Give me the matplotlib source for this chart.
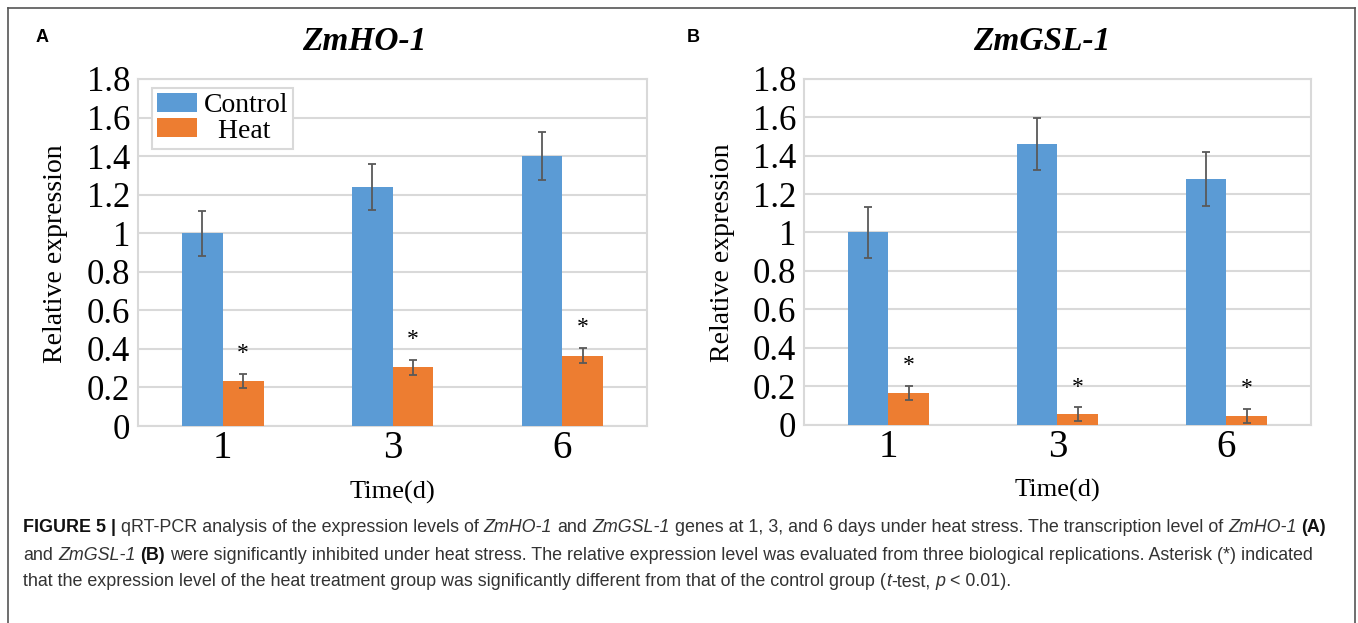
import matplotlib.pyplot as plt
import numpy as np

days = ['1', '3', '6']
series_names = ['Control', '  Heat']

ho_control = [1.00, 1.24, 1.40]
ho_control_err = [0.117, 0.118, 0.125]
ho_heat = [0.235, 0.305, 0.365]
ho_heat_err = [0.037, 0.038, 0.039]

gsl_control = [1.00, 1.46, 1.28]
gsl_control_err = [0.132, 0.135, 0.14]
gsl_heat = [0.165, 0.055, 0.045]
gsl_heat_err = [0.037, 0.035, 0.036]

y_ticks = [0, 0.2, 0.4, 0.6, 0.8, 1.0, 1.2, 1.4, 1.6, 1.8]
y_tick_labels = ['0', '0.2', '0.4', '0.6', '0.8', '1', '1.2', '1.4', '1.6', '1.8']

W, H = 1358, 623
blue = '#5b9bd5'
orange = '#ed7d31'
serif = 'Liberation Serif'
sans = 'Liberation Sans'

fig = plt.figure(figsize=(W / 100, H / 100), dpi=100)
ax_a = fig.add_axes([0.1015, 0.3162, 0.3752, 0.557])
ax_b = fig.add_axes([0.592, 0.3186, 0.3733, 0.555])


def draw_panel(ax, control, control_err, heat, heat_err, title, title_x, legend=False):
    x = np.arange(len(days))
    w = 0.24
    ekw = dict(ecolor='#595959', elinewidth=1.3, capsize=3, capthick=1.3)
    ax.bar(x - w / 2, control, w, yerr=control_err, color=blue, label=series_names[0],
           error_kw=ekw, zorder=3)
    ax.bar(x + w / 2, heat, w, yerr=heat_err, color=orange, label=series_names[1],
           error_kw=ekw, zorder=3)
    # significance stars over the heat bars
    for xi, v, e in zip(x, heat, heat_err):
        ax.text(xi + w / 2, v + e + 0.05, '*', ha='center', va='bottom',
                fontsize=17, family=serif)

    ax.set_xlim(-0.5, len(days) - 0.5)
    ax.set_ylim(0, 1.8)
    ax.set_xticks(x)
    ax.set_xticklabels(days, fontsize=28, family=serif)
    ax.set_yticks(y_ticks)
    ax.set_yticklabels(y_tick_labels, fontsize=25, family=serif)
    ax.tick_params(axis='both', length=0)
    ax.tick_params(axis='y', pad=5.5)
    ax.tick_params(axis='x', pad=3)
    ax.grid(axis='y', color='#d9d9d9', linewidth=1.5, zorder=0)
    ax.set_axisbelow(True)
    for s in ax.spines.values():
        s.set_color('#d9d9d9')
        s.set_linewidth(1.5)

    ax.set_ylabel('Relative expression', fontsize=20, family=serif, va='center')
    ax.yaxis.set_label_coords(-0.161, 0.496)
    ax.set_xlabel('Time(d)', fontsize=19, family=serif, va='center')
    ax.xaxis.set_label_coords(0.5, -0.192)

    ax.text(title_x, 1.107, title, transform=ax.transAxes, ha='center', va='center',
            fontsize=24, family=serif, fontweight='bold', fontstyle='italic')

    if legend:
        leg = ax.legend(loc='upper left', bbox_to_anchor=(0.0277, 0.974), borderaxespad=0,
                        prop={'family': serif, 'size': 20}, fancybox=False,
                        edgecolor='#d9d9d9', framealpha=1, handlelength=1.44,
                        handleheight=0.68, handletextpad=0.25, borderpad=0.18,
                        labelspacing=0.0)
        leg.get_frame().set_linewidth(1.5)


draw_panel(ax_a, ho_control, ho_control_err, ho_heat, ho_heat_err, 'ZmHO-1', 0.444, legend=True)
draw_panel(ax_b, gsl_control, gsl_control_err, gsl_heat, gsl_heat_err, 'ZmGSL-1', 0.469)

fig.text(42 / W, 1 - 38 / H, 'A', fontsize=13, fontweight='bold', family=sans,
         ha='center', va='center')
fig.text(693 / W, 1 - 38 / H, 'B', fontsize=13, fontweight='bold', family=sans,
         ha='center', va='center')

# outer frame, open at the bottom
frame_kw = dict(color='#555555', linewidth=1.2, transform=fig.transFigure)
fig.add_artist(plt.Line2D([8 / W, 8 / W], [0, 1 - 8 / H], **frame_kw))
fig.add_artist(plt.Line2D([8 / W, 1355 / W], [1 - 8 / H, 1 - 8 / H], **frame_kw))
fig.add_artist(plt.Line2D([1355 / W, 1355 / W], [0, 1 - 8 / H], **frame_kw))

# caption, drawn piece by piece so bold / italic can be mixed
caption = [
    [('FIGURE 5 |', 'b', 0), ('qRT-PCR analysis of the expression levels of', 'n', 1),
     ('ZmHO-1', 'i', 1), ('and', 'n', 1), ('ZmGSL-1', 'i', 1),
     ('genes at 1, 3, and 6 days under heat stress. The transcription level of', 'n', 1),
     ('ZmHO-1', 'i', 1), ('(A)', 'b', 1)],
    [('and', 'n', 0), ('ZmGSL-1', 'i', 1), ('(B)', 'b', 1),
     ('were significantly inhibited under heat stress. The relative expression level was '
      'evaluated from three biological replications. Asterisk (*) indicated', 'n', 1)],
    [('that the expression level of the heat treatment group was significantly different '
      'from that of the control group (', 'n', 0), ('t', 'i', 0), ('-test,', 'n', 0),
     ('p', 'i', 1), ('< 0.01).', 'n', 1)],
]
cap_size = 12.9
space_px = 0.278 * cap_size * 100 / 72
renderer = fig.canvas.get_renderer()
for k, parts in enumerate(caption):
    y = 528 + 27 * k
    x = 23
    for txt, style, gap in parts:
        x += gap * space_px
        t = fig.text(x / W, 1 - y / H, txt, fontsize=cap_size, family=sans,
                     color='#111111' if style == 'b' else '#333333',
                     fontweight='bold' if style == 'b' else 'normal',
                     fontstyle='italic' if style == 'i' else 'normal',
                     ha='left', va='center')
        x += t.get_window_extent(renderer).width

fig.savefig('out.png', dpi=100)
